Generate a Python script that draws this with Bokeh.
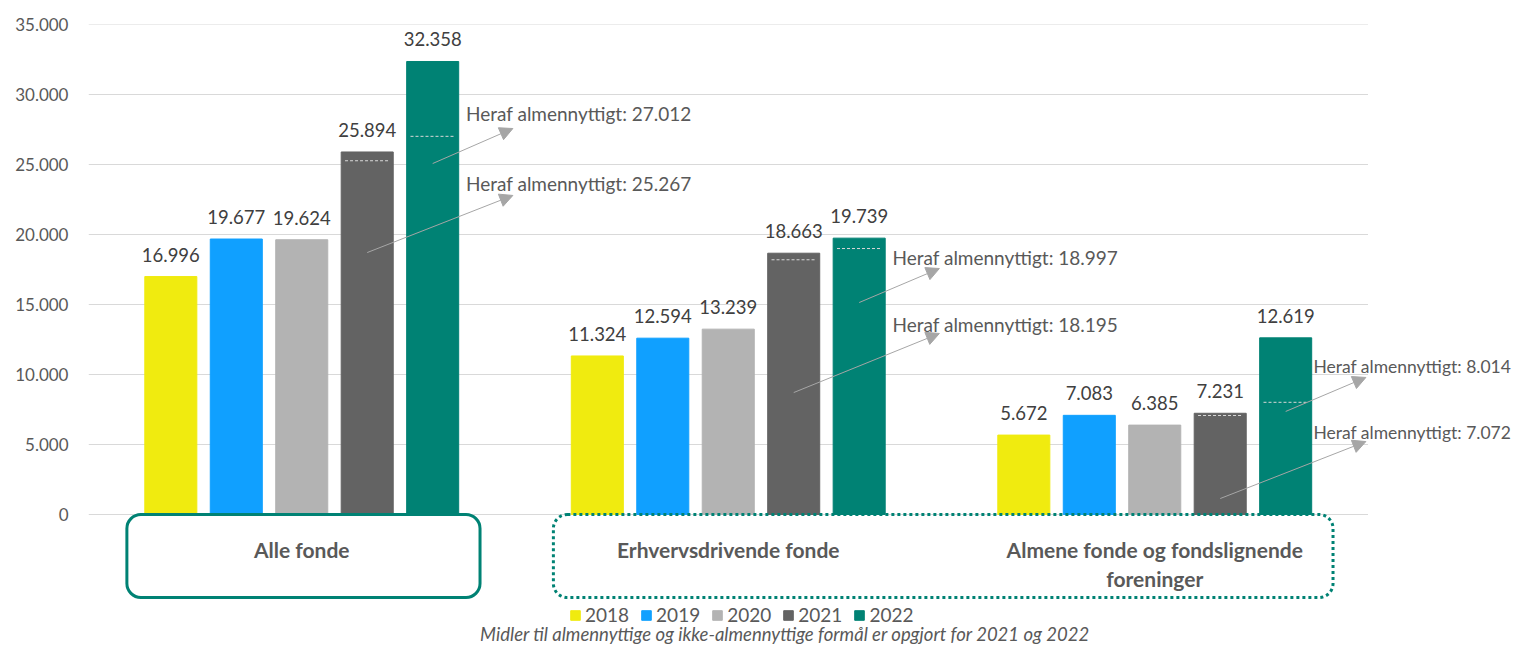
from bokeh.plotting import figure
from bokeh.models import (Range1d, FixedTicker, Legend, LegendItem, Arrow,
                          NormalHead, ColumnDataSource)
from bokeh.core.properties import value
from bokeh.embed import file_html
from bokeh.resources import INLINE

# ---------------- data ----------------
categories = ["Alle fonde", "Erhvervsdrivende fonde",
              "Almene fonde og fondslignende foreninger"]
category_lines = [["Alle fonde"], ["Erhvervsdrivende fonde"],
                  ["Almene fonde og fondslignende", "foreninger"]]
years = ["2018", "2019", "2020", "2021", "2022"]
v2018 = [16996, 11324, 5672]
v2019 = [19677, 12594, 7083]
v2020 = [19624, 13239, 6385]
v2021 = [25894, 18663, 7231]
v2022 = [32358, 19739, 12619]
almen2021 = [25267, 18195, 7072]
almen2022 = [27012, 18997, 8014]
y_ticks = [0, 5000, 10000, 15000, 20000, 25000, 30000, 35000]
y_tick_labels = ["0", "5.000", "10.000", "15.000", "20.000", "25.000", "30.000", "35.000"]
annotation_prefix = "Heraf almennyttigt: "
footnote = "Midler til almennyttige og ikke-almennyttige formål er opgjort for 2021 og 2022"

# ---------------- styling / layout ----------------
colors = ["#F0EB0F", "#10A0FF", "#B3B3B3", "#636363", "#008274"]
teal = "#008274"
FONT = "Lato"
W, H = 1517, 645
LEFT, TOP = 88, 24          # frame offsets in px
PX_PER_CAT = 426.5
PX_PER_UNIT = 0.014
offsets = [-0.307, -0.1535, 0.0, 0.1535, 0.307]
bar_w = 0.122
# annotation layout (positions of callout texts / arrows)
ann_text_dx = [0.385, 0.385, 0.372]
ann_font_sizes = ["19px", "19px", "17.5px"]
ann_end_dx = 0.495
ann_text_y_2022 = [28650, 18350, 10570]
ann_text_y_2021 = [23650, 13570, 5860]
ann_start_y_2022 = [25070, 15140, 7360]
ann_start_y_2021 = [18710, 8710, 1140]
ann_end_y_2022 = [27570, 17570, 9790]
ann_end_y_2021 = [22790, 12930, 5210]


def fmt(v):
    return f"{v:,}".replace(",", ".")


p = figure(width=W, height=H, output_backend="svg", toolbar_location=None,
           x_range=Range1d(-0.5, -0.5 + (W - LEFT) / PX_PER_CAT),
           y_range=Range1d(35000 - (H - TOP) / PX_PER_UNIT, 35000),
           min_border_left=LEFT, min_border_right=0, min_border_top=TOP,
           min_border_bottom=0)
p.outline_line_color = None
p.xgrid.grid_line_color = None
p.ygrid.grid_line_color = None
p.xaxis.visible = False
p.background_fill_color = "white"
p.border_fill_color = "white"

ya = p.yaxis[0]
ya.ticker = FixedTicker(ticks=y_ticks)
ya.major_label_overrides = {t: l for t, l in zip(y_ticks, y_tick_labels)}
ya.axis_line_color = None
ya.major_tick_line_color = None
ya.minor_tick_line_color = None
ya.major_tick_out = 0
ya.major_label_standoff = 20
ya.major_label_text_font = FONT
ya.major_label_text_font_size = "17px"
ya.major_label_text_color = "#595959"

# gridlines over the category area only
p.segment(x0=[-0.5] * len(y_ticks), x1=[2.5] * len(y_ticks), y0=y_ticks, y1=y_ticks,
          line_color="#D9D9D9", line_width=1)

idx = list(range(len(categories)))
series = [v2018, v2019, v2020, v2021, v2022]
renderers = []
for k, (yr, vals) in enumerate(zip(years, series)):
    xs = [i + offsets[k] for i in idx]
    r = p.vbar(x=xs, top=vals, bottom=0, width=bar_w, fill_color=colors[k],
               line_color=colors[k])
    renderers.append(r)
    p.text(x=xs, y=vals, text=[fmt(v) for v in vals], text_align="center",
           text_baseline="middle", y_offset=-22, text_font=value(FONT),
           text_font_size="18.5px", text_color="#404040")

# dashed "heraf almennyttigt" markers inside 2021/2022 bars
for k, almen in ((3, almen2021), (4, almen2022)):
    xs = [i + offsets[k] for i in idx]
    p.segment(x0=[x - 0.052 for x in xs], x1=[x + 0.052 for x in xs], y0=almen, y1=almen,
              line_color="#D8D8D8", line_width=1, line_dash="3 2")

# callout arrows and texts
for k, almen, ty, sy, ey in ((4, almen2022, ann_text_y_2022, ann_start_y_2022, ann_end_y_2022),
                             (3, almen2021, ann_text_y_2021, ann_start_y_2021, ann_end_y_2021)):
    src = ColumnDataSource(dict(
        x0=[i + offsets[k] for i in idx], y0=sy,
        x1=[i + ann_end_dx for i in idx], y1=ey))
    p.add_layout(Arrow(source=src, x_start="x0", y_start="y0", x_end="x1", y_end="y1",
                       line_color="#A6A6A6", line_width=1,
                       end=NormalHead(size=13, fill_color="#A6A6A6",
                                      line_color="#A6A6A6")))
    tsrc = ColumnDataSource(dict(
        x=[i + d for i, d in zip(idx, ann_text_dx)], y=ty,
        text=[annotation_prefix + fmt(a) for a in almen], size=ann_font_sizes))
    p.text(x="x", y="y", text="text", source=tsrc, text_font_size="size",
           text_align="left", text_baseline="middle", text_font=value(FONT),
           text_color="#595959")

# category boxes
box_left, box_right, box_top, box_bottom = 0.41, 0.418, 0, -5930
p.quad(left=[idx[0] - box_left], right=[idx[0] + box_right], top=[box_top], bottom=[box_bottom],
       fill_color=None, line_color=teal, line_width=3, border_radius=14)
p.quad(left=[idx[1] - box_left], right=[idx[2] + box_right], top=[box_top], bottom=[box_bottom],
       fill_color=None, line_color=teal, line_width=3, line_dash="3 3", border_radius=14)

line1_y, line_gap = -2500, 2070
cx, cy, ct = [], [], []
for i, lines in zip(idx, category_lines):
    for j, ln in enumerate(lines):
        cx.append(i)
        cy.append(line1_y - j * line_gap)
        ct.append(ln)
p.text(x=cx, y=cy, text=ct, text_align="center", text_baseline="middle",
       text_font=value(FONT), text_font_style="bold", text_font_size="21px",
       text_color="#595959")

# legend
legend = Legend(items=[LegendItem(label=y, renderers=[r]) for y, r in zip(years, renderers)],
                orientation="horizontal", location=(481, 19), glyph_width=12,
                glyph_height=12, label_height=12, label_standoff=4, spacing=11,
                padding=0, margin=0, label_text_font=FONT, label_text_font_size="19px",
                label_text_color="#595959", label_text_baseline="middle",
                background_fill_alpha=0, border_line_alpha=0)
p.add_layout(legend)

# footnote
p.text(x=[1.1336], y=[-8500], text=[footnote], text_align="center", text_baseline="middle",
       text_font=value(FONT), text_font_style="italic", text_font_size="18.5px",
       text_color="#595959")

open("out.html", "w").write(file_html(p, INLINE))
